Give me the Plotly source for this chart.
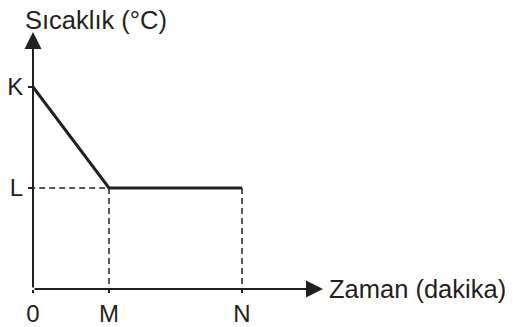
import plotly.graph_objects as go

# cooling curve: temperature falls from K to L until time M, then stays at L until N
time_vals = [0, 1, 2.75]          # 0, M, N
temp_vals = [2, 1, 1]             # K, L, L
x_tick_vals = [0, 1, 2.75]
x_tick_text = ["0", "M", "N"]
y_tick_vals = [2, 1]
y_tick_text = ["K", "L"]

ink = "#231f20"
tick_font = dict(family="Liberation Sans, Arial, sans-serif", size=24, color=ink)
title_font = dict(family="Liberation Sans, Arial, sans-serif", size=25.5, color=ink)

# the page body adds an 8px margin, so the figure is a bit smaller than the window
W, H = 505, 319
left, bottom = 25, 38
px_x, px_y = 76, 101   # pixels per unit
x_max = (W - left) / px_x
y_max = (H - bottom) / px_y
x_tip = (315 - left) / px_x
y_tip = (H - bottom - 24) / px_y

fig = go.Figure()

# dashed guides
M, N, L = time_vals[1], time_vals[2], temp_vals[1]
for xs, ys in [([-0.05, M], [L, L]), ([M, M], [L, 0]), ([N, N], [L, 0])]:
    fig.add_trace(go.Scatter(x=xs, y=ys, mode="lines", cliponaxis=False,
                             line=dict(color=ink, width=1.5, dash="6px,4px"),
                             hoverinfo="skip"))

fig.add_trace(go.Scatter(x=time_vals, y=temp_vals, mode="lines", cliponaxis=False,
                         line=dict(color=ink, width=3), hoverinfo="skip"))

# axis arrows
for tx, ty in [(x_tip, 0), (0, y_tip)]:
    fig.add_annotation(x=tx, y=ty, ax=0, ay=0, xref="x", yref="y", axref="x", ayref="y",
                       text="", showarrow=True, arrowhead=2, arrowsize=1.7, arrowwidth=2,
                       arrowcolor=ink)

# axis titles
fig.add_annotation(x=(88 - left) / (W - left), y=(H - bottom - 12) / (H - bottom),
                   xref="paper", yref="paper", text="Sıcaklık (°C)",
                   xanchor="center", yanchor="middle", showarrow=False, font=title_font)
fig.add_annotation(x=x_tip, y=0, xref="x", yref="y", text="Zaman (dakika)",
                   xanchor="left", yanchor="middle", xshift=4, showarrow=False,
                   font=title_font)

fig.update_layout(
    width=W, height=H,
    margin=dict(l=left, r=0, t=0, b=bottom),
    paper_bgcolor="white", plot_bgcolor="white",
    showlegend=False,
    font=tick_font,
)
fig.update_xaxes(range=[0, x_max], showgrid=False, zeroline=False, showline=False,
                 automargin=False,
                 tickvals=x_tick_vals, ticktext=x_tick_text, ticks="outside",
                 ticklen=3, tickwidth=1.5, tickcolor=ink, tickfont=tick_font)
fig.update_yaxes(range=[0, y_max], showgrid=False, zeroline=False, showline=False,
                 automargin=False,
                 tickvals=y_tick_vals, ticktext=y_tick_text, ticks="outside",
                 ticklen=4, tickwidth=1.5, tickcolor=ink, tickfont=tick_font)

fig.write_html("out.html")
